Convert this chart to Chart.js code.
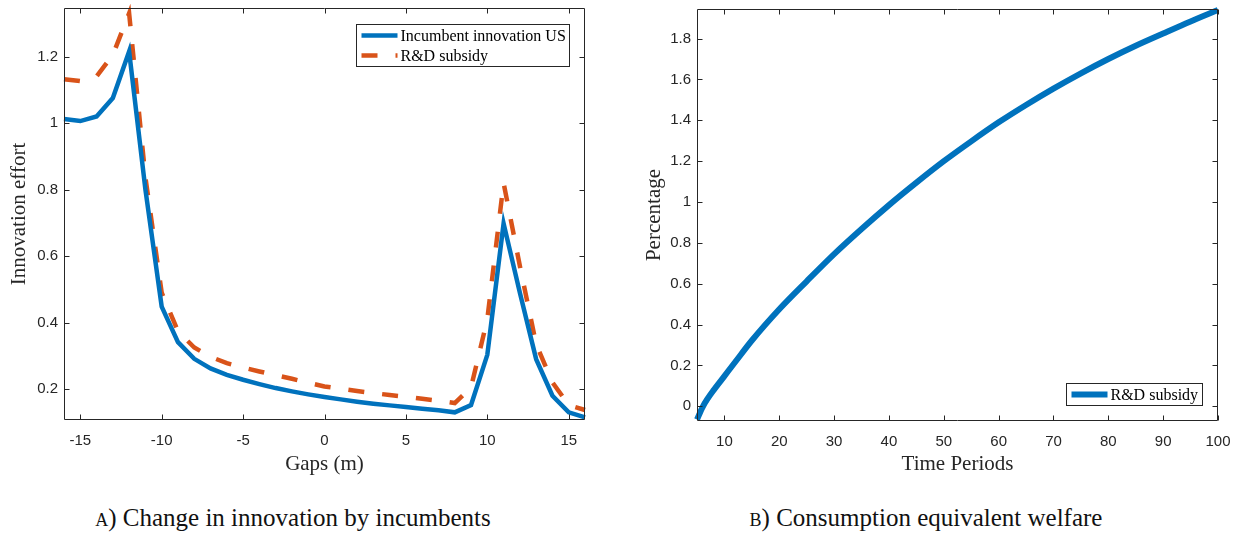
<!DOCTYPE html>
<html>
<head>
<meta charset="utf-8">
<title>Innovation and welfare</title>
<script src="https://cdn.jsdelivr.net/npm/chart.js@4.4.1/dist/chart.umd.min.js"></script>
<style>
    html, body { margin: 0; padding: 0; background: #fff; }
    body { width: 1239px; height: 534px; position: relative; overflow: hidden; }
    .panel { position: absolute; top: 0; height: 480px; }
    #panelA { left: 0; width: 600px; }
    #panelB { left: 620px; width: 619px; }
    .caption {
        position: absolute; top: 505px; width: 420px;
        font: 25px "Liberation Serif", serif; line-height: 25px;
        color: #111; text-align: center; white-space: nowrap;
    }
    .sc { font-variant: small-caps; }
</style>
</head>
<body>
<div class="panel" id="panelA"><canvas id="gapChart"></canvas></div>
<div class="panel" id="panelB"><canvas id="welfareChart"></canvas></div>
<div class="caption" style="left:83px"><span class="sc">a)</span> Change in innovation by incumbents</div>
<div class="caption" style="left:716px"><span class="sc">b)</span> Consumption equivalent welfare</div>

<script>
/* Panel (a): incumbent innovation effort by technology gap */
var gaps = [-16, -15, -14, -13, -12, -11, -10, -9, -8, -7, -6, -5, -4, -3, -2, -1,
    0, 1, 2, 3, 4, 5, 6, 7, 8, 9, 10, 11, 12, 13, 14, 15, 16];
var incumbentUS = [1.012, 1.006, 1.02, 1.075, 1.215, 0.80, 0.448, 0.341, 0.291, 0.262,
    0.243, 0.228, 0.215, 0.203, 0.193, 0.184, 0.176, 0.169, 0.162, 0.156, 0.151, 0.146,
    0.141, 0.136, 0.13, 0.152, 0.303, 0.698, 0.49, 0.29, 0.18, 0.13, 0.115];
var rdSubsidy = [1.132, 1.126, 1.14, 1.205, 1.33, 0.837, 0.49, 0.374, 0.325, 0.297,
    0.278, 0.265, 0.253, 0.242, 0.231, 0.219, 0.208, 0.201, 0.194, 0.188, 0.182, 0.177,
    0.171, 0.165, 0.158, 0.205, 0.41, 0.82, 0.57, 0.335, 0.22, 0.152, 0.137];
var gapTicks = [-15, -10, -5, 0, 5, 10, 15];
var effortTicks = [0.2, 0.4, 0.6, 0.8, 1, 1.2];

/* Panel (b): consumption equivalent welfare over time */
var periods = [5, 6, 7, 8, 10, 12, 15, 20, 25, 30, 35, 40, 45, 50, 55, 60, 65, 70, 75,
    80, 85, 90, 95, 100];
var welfare = [-0.065, -0.005, 0.04, 0.078, 0.148, 0.218, 0.322, 0.475, 0.612, 0.745, 0.868,
    0.985, 1.095, 1.2, 1.297, 1.39, 1.475, 1.555, 1.63, 1.7, 1.765, 1.825, 1.884, 1.94];
var periodTicks = [10, 20, 30, 40, 50, 60, 70, 80, 90, 100];
var percentTicks = [0, 0.2, 0.4, 0.6, 0.8, 1, 1.2, 1.4, 1.6, 1.8];

var BLUE = "#0072BD";
var RED = "#D95319";
var INK = "#262626";

Chart.defaults.font.family = "'Liberation Sans', Arial, sans-serif";

// Replace the generated ticks with a fixed list.
function fixedTicks(values) {
    return function (scale) {
        scale.ticks = values.map(function (v) { return { value: v }; });
    };
}

function fmt(v) {
    return String(Math.round(v * 10) / 10);
}

// Shared axis settings; MATLAB-like look, ticks drawn by the frame plugin.
function axis(min, max, ticks, titleText, size, titlePad) {
    var horizontal = size.height !== undefined;
    return {
        type: "linear",
        min: min,
        max: max,
        afterBuildTicks: fixedTicks(ticks),
        afterFit: function (scale) {
            if (horizontal) scale.height = size.height;
            else scale.width = size.width;
            // keep the plot box where the layout padding puts it
            scale.paddingLeft = scale.paddingRight = 0;
            scale.paddingTop = scale.paddingBottom = 0;
        },
        grid: { display: false, drawTicks: false },
        border: { display: false },
        ticks: {
            padding: horizontal ? 12 : 6,
            color: INK,
            font: { size: 15 },
            callback: fmt,
        },
        title: {
            display: true,
            text: titleText,
            color: INK,
            font: { family: "'Liberation Serif', serif", size: 21 },
            padding: titlePad,
        },
    };
}

// Box around the plot with inward ticks on all four sides.
var framePlugin = {
    id: "frame",
    afterDraw: function (chart) {
        var ctx = chart.ctx;
        var a = chart.chartArea;
        var L = Math.round(a.left) + 0.5, R = Math.round(a.right) - 0.5;
        var T = Math.round(a.top) + 0.5, B = Math.round(a.bottom) - 0.5;
        ctx.save();
        ctx.strokeStyle = INK;
        ctx.lineWidth = 1;
        ctx.beginPath();
        ctx.rect(L, T, R - L, B - T);
        chart.scales.x.ticks.forEach(function (t) {
            var px = Math.round(chart.scales.x.getPixelForValue(t.value)) + 0.5;
            ctx.moveTo(px, B); ctx.lineTo(px, B - 5);
            ctx.moveTo(px, T); ctx.lineTo(px, T + 5);
        });
        chart.scales.y.ticks.forEach(function (t) {
            var py = Math.round(chart.scales.y.getPixelForValue(t.value)) + 0.5;
            ctx.moveTo(L, py); ctx.lineTo(L + 5, py);
            ctx.moveTo(R, py); ctx.lineTo(R - 5, py);
        });
        ctx.stroke();
        ctx.restore();
    },
};

// Boxed legend inside the plot, at the top-right or bottom-right corner.
var boxLegendPlugin = {
    id: "boxLegend",
    afterDraw: function (chart, args, opts) {
        var ctx = chart.ctx;
        var a = chart.chartArea;
        var sets = chart.data.datasets;
        ctx.save();
        ctx.font = "16px 'Liberation Serif', serif";
        var textW = Math.max.apply(null, sets.map(function (d) {
            return ctx.measureText(d.label).width;
        }));
        var w = Math.round(5 + opts.lineLen + 3 + textW + 4);
        var h = sets.length * 20 + 2;
        var x = Math.round(a.right - opts.inset - w) + 0.5;
        var y = Math.round(opts.corner === "top"
            ? a.top + opts.inset
            : a.bottom - opts.inset - h) + 0.5;
        ctx.fillStyle = "#fff";
        ctx.fillRect(x, y, w, h);
        ctx.strokeStyle = INK;
        ctx.lineWidth = 1;
        ctx.strokeRect(x, y, w, h);
        sets.forEach(function (d, i) {
            var cy = y + 11 + i * 20;
            ctx.beginPath();
            ctx.setLineDash(d.borderDash || []);
            ctx.lineWidth = d.borderWidth;
            ctx.strokeStyle = d.borderColor;
            ctx.moveTo(x + 5, cy);
            ctx.lineTo(x + 5 + opts.lineLen, cy);
            ctx.stroke();
            ctx.setLineDash([]);
            ctx.fillStyle = "#000";
            ctx.textBaseline = "middle";
            ctx.fillText(d.label, x + 5 + opts.lineLen + 3, cy + 1);
        });
        ctx.restore();
    },
};

function xy(xs, ys) {
    return xs.map(function (x, i) { return { x: x, y: ys[i] }; });
}

document.addEventListener("DOMContentLoaded", function () {
    new Chart(document.getElementById("gapChart"), {
        type: "line",
        data: {
            datasets: [
                {
                    label: "Incumbent innovation US",
                    data: xy(gaps, incumbentUS),
                    borderColor: BLUE,
                    borderWidth: 4.5,
                    pointRadius: 0,
                    tension: 0,
                    clip: false,
                },
                {
                    label: "R&D subsidy",
                    data: xy(gaps, rdSubsidy),
                    borderColor: RED,
                    borderWidth: 4.5,
                    borderDash: [16, 18],
                    borderCapStyle: "butt",
                    pointRadius: 0,
                    tension: 0,
                    clip: false,
                },
            ],
        },
        options: {
            responsive: true,
            maintainAspectRatio: false,
            animation: false,
            layout: { padding: { top: 8, right: 15, left: 0, bottom: 0 } },
            plugins: {
                legend: { display: false },
                tooltip: { enabled: false },
                boxLegend: { corner: "top", inset: 16, lineLen: 36 },
            },
            scales: {
                x: axis(-16, 16, gapTicks, "Gaps (m)", { height: 60 }, { top: 0, bottom: 3 }),
                y: axis(0.107, 1.346, effortTicks, "Innovation effort", { width: 64 }, { top: 7, bottom: 0 }),
            },
        },
        plugins: [framePlugin, boxLegendPlugin],
    });

    new Chart(document.getElementById("welfareChart"), {
        type: "line",
        data: {
            datasets: [
                {
                    label: "R&D subsidy",
                    data: xy(periods, welfare),
                    borderColor: BLUE,
                    borderWidth: 6,
                    pointRadius: 0,
                    cubicInterpolationMode: "monotone",
                    clip: false,
                },
            ],
        },
        options: {
            responsive: true,
            maintainAspectRatio: false,
            animation: false,
            layout: { padding: { top: 9, right: 21, left: 0, bottom: 0 } },
            plugins: {
                legend: { display: false },
                tooltip: { enabled: false },
                boxLegend: { corner: "bottom", inset: 16, lineLen: 36 },
            },
            scales: {
                x: axis(5, 100, periodTicks, "Time Periods", { height: 59 }, { top: 0, bottom: 3 }),
                y: axis(-0.072, 1.945, percentTicks, "Percentage", { width: 77 }, { top: 22, bottom: 0 }),
            },
        },
        plugins: [framePlugin, boxLegendPlugin],
    });
});
</script>
</body>
</html>
